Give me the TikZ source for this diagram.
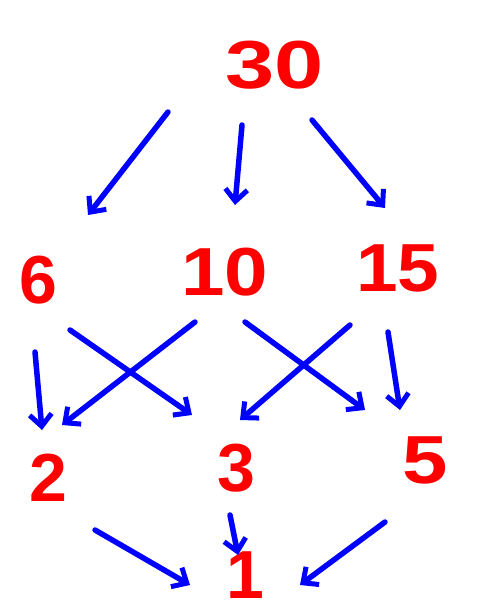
\documentclass[tikz,border=0pt]{standalone}
\usepackage{fontspec}
\setmainfont{Liberation Sans}
\usetikzlibrary{arrows.meta,calc}
\begin{document}
\begin{tikzpicture}[x=1pt,y=-1pt,
  num/.style={text=red, font=\fontsize{68}{68}\selectfont\bfseries, inner sep=0pt},
  arr/.style={draw=blue, line width=5.5pt, line cap=round, -{Straight Barb[length=12pt,width=22pt,line width=5pt]}}]
\useasboundingbox (0,0) rectangle (484,613);
\node[num, xscale=1.3] (n30) at (275,65) {30};
\node[num] (n6) at (38,280) {6};
\node[num, xscale=1.15] (n10) at (225,272) {10};
\node[num, xscale=1.1] (n15) at (398,268) {15};
\node[num] (n2) at (48,478) {2};
\node[num] (n3) at (236,468) {3};
\node[num, xscale=1.2] (n5) at (425,460) {5};
\node[num] (n1) at (245,575) {1};
\draw[arr] ($(n30)+(-107,47)$) -- ($(n6)+(50,-65)$);
\draw[arr] ($(n30)+(-33,60)$) -- ($(n10)+(10,-67)$);
\draw[arr] ($(n30)+(37,55)$) -- ($(n15)+(-13,-60)$);
\draw[arr] ($(n6)+(-3,72)$) -- ($(n2)+(-6,-48)$);
\draw[arr] ($(n6)+(32,50)$) -- ($(n3)+(-44,-53)$);
\draw[arr] ($(n10)+(-30,50)$) -- ($(n2)+(14,-53)$);
\draw[arr] ($(n10)+(20,50)$) -- ($(n5)+(-60,-50)$);
\draw[arr] ($(n15)+(-48,57)$) -- ($(n3)+(4,-48)$);
\draw[arr] ($(n15)+(-10,64)$) -- ($(n5)+(-25,-50)$);
\draw[arr] ($(n2)+(47,52)$) -- ($(n1)+(-55,10)$);
\draw[arr] ($(n3)+(-6,47)$) -- ($(n1)+(-7,-20)$);
\draw[arr] ($(n5)+(-40,62)$) -- ($(n1)+(55,10)$);
\end{tikzpicture}
\end{document}
